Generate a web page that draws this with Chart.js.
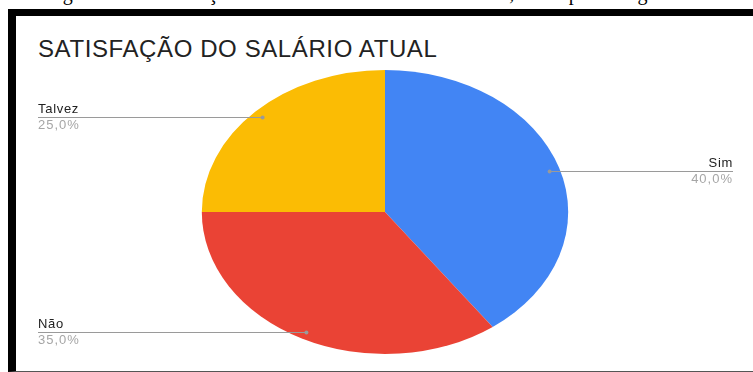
<!DOCTYPE html>
<html lang="pt-BR">
<head>
<meta charset="utf-8">
<title>Satisfação do salário atual</title>
<script src="https://cdn.jsdelivr.net/npm/chart.js@4.4.0/dist/chart.umd.min.js"></script>
<style>
  html, body { margin: 0; padding: 0; background: #fff; overflow: hidden; }
  body { width: 753px; height: 372px; position: relative; }
  .caption {
    position: absolute; left: 46px; top: -17px; white-space: nowrap;
    font: 20px "Liberation Serif", "Times New Roman", serif; line-height: 20px;
    word-spacing: 10px; color: #000;
  }
  .frame {
    position: absolute; left: 8px; top: 9px; right: -10px; bottom: 0;
    box-sizing: border-box;
    border-left: 8px solid #000; border-top: 7px solid #000; border-bottom: 1px solid #555;
  }
  .title {
    position: absolute; left: 38px; top: 37px; white-space: nowrap;
    font: 24px "Liberation Sans", Arial, sans-serif; line-height: 24px; color: #222;
    letter-spacing: 0.6px;
  }
  #box { position: absolute; left: 0; top: 0; width: 753px; height: 372px; }
</style>
</head>
<body>
<div class="caption">Figura 35: Satisfação do salário dos colaboradores, em porcentagem</div>
<div class="frame"></div>
<div class="title">SATISFAÇÃO DO SALÁRIO ATUAL</div>
<div id="box"><canvas id="pie"></canvas></div>
<script>
  // respostas
  const labels = ['Sim', 'Não', 'Talvez']
  const values = [40, 35, 25]
  const colors = ['#4285F4', '#EA4335', '#FBBC04']

  // the pie is drawn wider than tall
  const STRETCH_X = 1.29

  const stretchPie = {
    id: 'stretchPie',
    beforeDatasetsDraw(chart) {
      const arc = chart.getDatasetMeta(0).data[0]
      const ctx = chart.ctx
      ctx.save()
      ctx.translate(arc.x, arc.y)
      ctx.scale(STRETCH_X, 1)
      ctx.translate(-arc.x, -arc.y)
    },
    afterDatasetsDraw(chart) {
      chart.ctx.restore()
    }
  }

  // leader lines with name above and percentage below
  const sliceLabels = {
    id: 'sliceLabels',
    afterDraw(chart) {
      const ctx = chart.ctx
      const meta = chart.getDatasetMeta(0)
      const total = values.reduce((a, b) => a + b, 0)
      ctx.save()
      meta.data.forEach((arc, i) => {
        const mid = (arc.startAngle + arc.endAngle) / 2
        const r = arc.outerRadius * 0.945
        const px = arc.x + Math.cos(mid) * r * STRETCH_X
        const py = Math.round(arc.y + Math.sin(mid) * r)
        const right = Math.cos(mid) > 0
        const tx = right ? 733 : 38

        ctx.strokeStyle = '#9a9a9a'
        ctx.lineWidth = 1
        ctx.beginPath()
        ctx.moveTo(tx, py + 0.5)
        ctx.lineTo(px, py + 0.5)
        ctx.stroke()
        ctx.fillStyle = '#9a9a9a'
        ctx.beginPath()
        ctx.arc(px, py + 0.5, 2, 0, Math.PI * 2)
        ctx.fill()

        ctx.textAlign = right ? 'right' : 'left'
        ctx.textBaseline = 'alphabetic'
        ctx.font = '13px "Liberation Sans", Arial, sans-serif'
        ctx.letterSpacing = '0.7px'
        ctx.fillStyle = '#222'
        ctx.fillText(labels[i], tx, py - 4)
        const pct = (values[i] / total * 100).toFixed(1).replace('.', ',') + '%'
        ctx.letterSpacing = '1px'
        ctx.fillStyle = '#a6a6a6'
        ctx.fillText(pct, tx, py + 12)
      })
      ctx.restore()
    }
  }

  new Chart(document.getElementById('pie'), {
    type: 'pie',
    data: {
      labels: labels,
      datasets: [{
        data: values,
        backgroundColor: colors,
        borderWidth: 0
      }]
    },
    options: {
      responsive: true,
      maintainAspectRatio: false,
      animation: false,
      layout: {
        padding: { left: 243, right: 226, top: 70, bottom: 18 }
      },
      plugins: {
        legend: { display: false },
        tooltip: { enabled: false }
      }
    },
    plugins: [stretchPie, sliceLabels]
  })
</script>
</body>
</html>
